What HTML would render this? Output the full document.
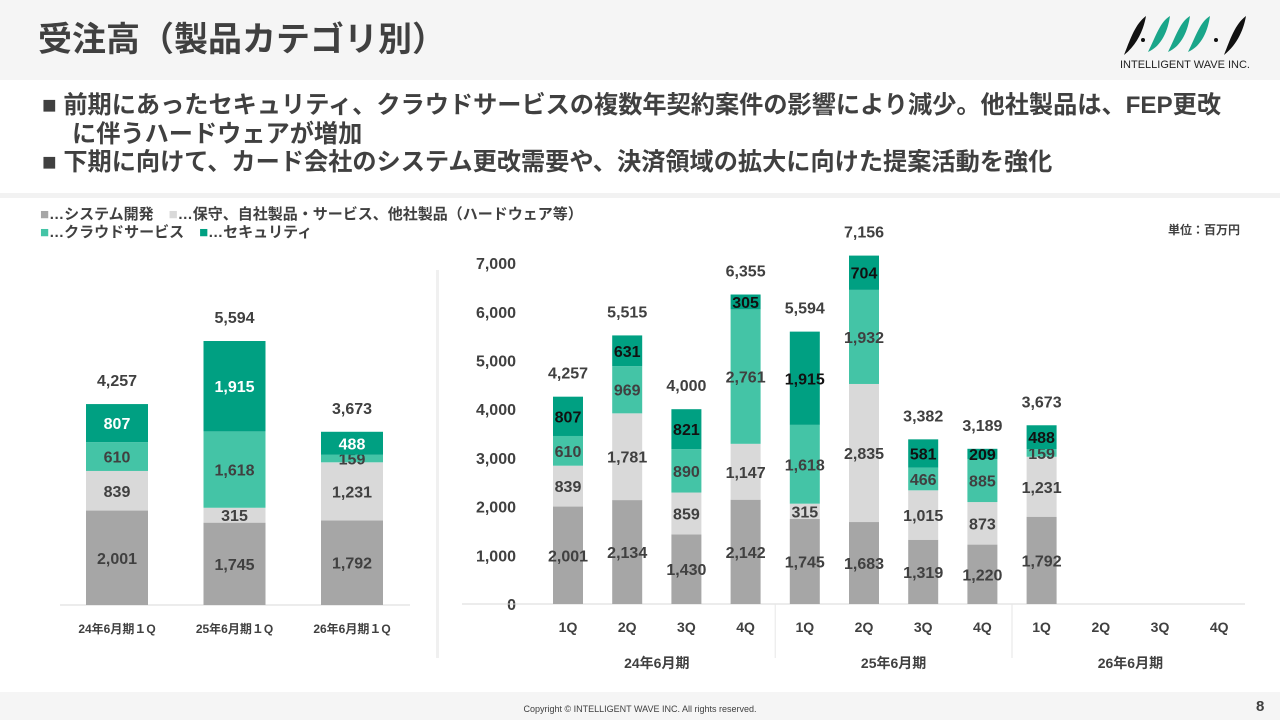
<!DOCTYPE html>
<html><head><meta charset="utf-8"><style>
body{margin:0;width:1280px;height:720px;overflow:hidden;background:#fff;font-family:"Liberation Sans","Noto Sans CJK JP",sans-serif;color:#404040}
.abs{position:absolute}
</style></head><body>
<div class="abs" style="left:0;top:0;width:1280px;height:80px;background:#f5f5f5"></div>
<div class="abs" style="left:38px;top:20px;font-size:34px;font-weight:bold;color:#404040;white-space:nowrap;line-height:40px">受注高（製品カテゴリ別）</div>
<svg class="abs" style="left:1110px;top:10px" width="150" height="62" viewBox="0 0 150 62">
<path d="M14 45 C20 30 25 14 36 6 C34 18 28 34 14 45Z" fill="#111"/>
<path d="M38 42 C46 26 50 12 60 6 C58 20 52 36 38 42Z M58 42 C66 26 70 12 80 6 C78 20 72 36 58 42Z M78 42 C86 26 90 12 100 6 C98 20 92 36 78 42Z" fill="#1aa68a"/>
<path d="M114 45 C120 30 125 14 136 6 C134 18 128 34 114 45Z" fill="#111"/>
<circle cx="33" cy="30" r="2" fill="#111"/><circle cx="106" cy="30" r="2" fill="#111"/>
<text x="75" y="58" text-anchor="middle" font-size="11" fill="#222" font-family="Liberation Sans">INTELLIGENT WAVE INC.</text>
</svg>
<div class="abs" style="left:42px;top:92px;font-size:24.2px;font-weight:bold;color:#404040;line-height:28.5px;width:1236px;white-space:nowrap">
<div>■ 前期にあったセキュリティ、クラウドサービスの複数年契約案件の影響により減少。他社製品は、FEP更改<br><span style="padding-left:30px">に伴うハードウェアが増加</span></div>
<div>■ 下期に向けて、カード会社のシステム更改需要や、決済領域の拡大に向けた提案活動を強化</div>
</div>
<div class="abs" style="left:0;top:193px;width:1280px;height:5px;background:#f2f2f2"></div>
<div class="abs" style="left:40px;top:206px;font-size:15px;font-weight:bold;color:#404040;line-height:18px;white-space:nowrap">
<div><span><span style="color:#a6a6a6">■</span>…システム開発</span>　<span><span style="color:#d9d9d9">■</span>…保守、自社製品・サービス、他社製品（ハードウェア等）</span></div>
<div><span><span style="color:#44c4a6">■</span>…クラウドサービス</span>　<span><span style="color:#00a082">■</span>…セキュリティ</span></div>
</div>
<div class="abs" style="left:1168px;top:221px;font-size:12px;font-weight:bold">単位：百万円</div>
<div class="abs" style="left:436px;top:270px;width:3px;height:388px;background:#f0f0f0"></div>
<svg id="chart" class="abs" style="left:0;top:0" width="1280" height="720"></svg>
<div class="abs" style="left:0;top:692px;width:1280px;height:28px;background:#f5f5f5"></div>
<div class="abs" style="left:0;top:704px;width:1280px;text-align:center;font-size:9px;color:#404040">Copyright © INTELLIGENT WAVE INC. All rights reserved.</div>
<div class="abs" style="left:1256px;top:698px;font-size:15px;font-weight:bold">8</div>
<script>
const leftCats=["24年6月期１Q","25年6月期１Q","26年6月期１Q"];
const leftSys=[2001,1745,1792];
const leftMaint=[839,315,1231];
const leftCloud=[610,1618,159];
const leftSec=[807,1915,488];
const leftTotals=[4257,5594,3673];
const qLabels=["1Q","2Q","3Q","4Q","1Q","2Q","3Q","4Q","1Q","2Q","3Q","4Q"];
const fyLabels=["24年6月期","25年6月期","26年6月期"];
const rSys=[2001,2134,1430,2142,1745,1683,1319,1220,1792];
const rMaint=[839,1781,859,1147,315,2835,1015,873,1231];
const rCloud=[610,969,890,2761,1618,1932,466,885,159];
const rSec=[807,631,821,305,1915,704,581,209,488];
const rTotals=[4257,5515,4000,6355,5594,7156,3382,3189,3673];
const yTicks=[0,1000,2000,3000,4000,5000,6000,7000];
const colors=["#a6a6a6","#d9d9d9","#44c4a6","#00a082"];
const names=["system","maintenance","cloud","security"];
const svg=document.getElementById('chart');
const NS="http://www.w3.org/2000/svg";
function el(t,a){const e=document.createElementNS(NS,t);for(const k in a)e.setAttribute(k,a[k]);svg.appendChild(e);return e;}
function txt(x,y,s,a){const e=el('text',Object.assign({x:x,y:y,'text-anchor':'middle','font-size':16,'font-weight':'bold',fill:'#404040','font-family':'"Liberation Sans","Noto Sans CJK JP",sans-serif'},a||{}));e.textContent=s;return e;}
const fmt=v=>v.toLocaleString('en-US');
const lBase=605,lK=0.0472;const lx=i=>117+i*117.5;const ly=v=>lBase-v*lK;
let ln=el('line',{x1:60,x2:410,y1:lBase,y2:lBase,stroke:'#d9d9d9'});

const lSeries=[leftSys,leftMaint,leftCloud,leftSec];
leftCats.forEach((c,i)=>{let acc=0;
 lSeries.forEach((s,j)=>{const v=s[i];const r=el('rect',{x:lx(i)-31,y:ly(acc+v),width:62,height:v*lK,fill:colors[j]});
  
  const t=txt(lx(i),ly(acc+v/2)+6,fmt(v),{fill:j==3?'#fff':'#404040'});
  acc+=v;});
 const tt=txt(lx(i),ly(acc)-18,fmt(leftTotals[i]));
 const cl=txt(lx(i),633,c,{'font-size':12});
});
const rBase=604,rK=0.0487;const rx=i=>568+i*59.2;const ry=v=>rBase-v*rK;
yTicks.forEach(v=>{const t=txt(516,ry(v)+6,fmt(v),{'text-anchor':'end'});});
let rl=el('line',{x1:462,x2:1245,y1:rBase,y2:rBase,stroke:'#d9d9d9'});

[1,2].forEach(k=>{const x=rx(k*4)-29.6;const d=el('line',{x1:x,x2:x,y1:rBase,y2:658,stroke:'#e6e6e6'});});
const rSeries=[rSys,rMaint,rCloud,rSec];
rTotals.forEach((tot,i)=>{let acc=0;
 rSeries.forEach((s,j)=>{const v=s[i];const r=el('rect',{x:rx(i)-15,y:ry(acc+v),width:30,height:v*rK,fill:colors[j]});
  
  const t=txt(rx(i),ry(acc+v/2)+6,fmt(v),{fill:j==3?'#111':'#404040'});
  acc+=v;});
 const tt=txt(rx(i),ry(acc)-18,fmt(tot));
});
qLabels.forEach((q,i)=>{const t=txt(rx(i),632,q,{'font-size':14});});
fyLabels.forEach((f,k)=>{const t=txt(rx(k*4+1.5),668,f,{'font-size':14});});
</script>
</body></html>
